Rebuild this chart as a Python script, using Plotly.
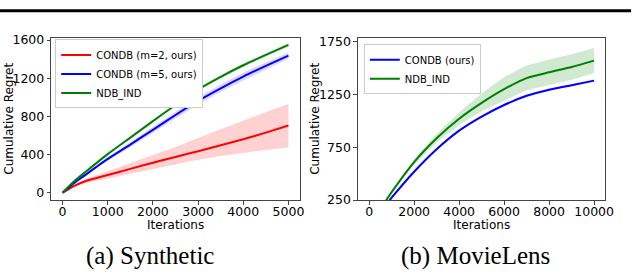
import plotly.graph_objects as go

# ---------------- data: (a) Synthetic ----------------
syn_x = [0, 250, 500, 1000, 1500, 2000, 2500, 3000, 3500, 4000, 4500, 5000]
syn_m2 = [0, 70, 120, 185, 250, 315, 375, 435, 497, 560, 630, 705]
syn_m2_hi = [0, 80, 140, 225, 305, 390, 480, 574, 665, 760, 845, 930]
syn_m2_lo = [0, 60, 100, 150, 200, 245, 295, 345, 385, 420, 448, 473]
syn_m5 = [0, 100, 185, 354, 505, 659, 815, 963, 1095, 1218, 1330, 1438]
syn_m5_hi = [0, 105, 195, 372, 530, 690, 850, 1000, 1135, 1260, 1370, 1472]
syn_m5_lo = [0, 95, 175, 336, 480, 628, 780, 926, 1055, 1176, 1290, 1404]
syn_ind = [0, 117, 215, 405, 578, 750, 920, 1082, 1215, 1336, 1445, 1550]
syn_ind_hi = [0, 120, 220, 413, 588, 762, 934, 1098, 1232, 1354, 1464, 1570]
syn_ind_lo = [0, 114, 210, 397, 568, 738, 906, 1066, 1198, 1318, 1426, 1530]

# ---------------- data: (b) MovieLens ----------------
ml_x = [0, 1000, 2000, 3000, 4000, 5000, 6000, 7000, 8000, 9000, 10000]
ml_condb = [0, 272, 518, 731, 907, 1040, 1150, 1237, 1295, 1338, 1381]
ml_condb_hi = [0, 276, 524, 738, 915, 1049, 1160, 1247, 1305, 1348, 1391]
ml_condb_lo = [0, 268, 512, 724, 899, 1031, 1140, 1227, 1285, 1328, 1371]
ml_ind = [0, 325, 610, 835, 1020, 1170, 1300, 1405, 1460, 1510, 1570]
ml_ind_hi = [0, 335, 640, 875, 1080, 1260, 1415, 1525, 1580, 1630, 1690]
ml_ind_lo = [0, 315, 590, 795, 960, 1090, 1190, 1290, 1340, 1390, 1452]

syn_xticks = [0, 1000, 2000, 3000, 4000, 5000]
syn_yticks = [0, 400, 800, 1200, 1600]
ml_xticks = [0, 2000, 4000, 6000, 8000, 10000]
ml_yticks = [250, 750, 1250, 1750]

RED = "rgb(255,0,0)"
BLUE = "rgb(0,0,255)"
GREEN = "rgb(0,128,0)"

W, H = 640, 274
fig = go.Figure()


def band(x, lo, hi, fill, xa, ya):
    fig.add_trace(go.Scatter(x=x, y=lo, mode="lines", line=dict(width=0, color=fill),
                             showlegend=False, hoverinfo="skip", xaxis=xa, yaxis=ya))
    fig.add_trace(go.Scatter(x=x, y=hi, mode="lines", line=dict(width=0, color=fill),
                             fill="tonexty", fillcolor=fill, showlegend=False,
                             hoverinfo="skip", xaxis=xa, yaxis=ya))


band(syn_x, syn_m2_lo, syn_m2_hi, "rgba(255,0,0,0.18)", "x", "y")
band(syn_x, syn_m5_lo, syn_m5_hi, "rgba(0,0,255,0.15)", "x", "y")
band(syn_x, syn_ind_lo, syn_ind_hi, "rgba(0,128,0,0.15)", "x", "y")
band(ml_x, ml_condb_lo, ml_condb_hi, "rgba(0,0,255,0.12)", "x2", "y2")
band(ml_x, ml_ind_lo, ml_ind_hi, "rgba(0,128,0,0.18)", "x2", "y2")

LINE = dict(width=2, shape="spline", smoothing=0.6)
fig.add_trace(go.Scatter(x=syn_x, y=syn_m2, mode="lines", name="CONDB (m=2, ours)",
                         line=dict(color=RED, **LINE), xaxis="x", yaxis="y", legend="legend"))
fig.add_trace(go.Scatter(x=syn_x, y=syn_m5, mode="lines", name="CONDB (m=5, ours)",
                         line=dict(color=BLUE, **LINE), xaxis="x", yaxis="y", legend="legend"))
fig.add_trace(go.Scatter(x=syn_x, y=syn_ind, mode="lines", name="NDB_IND",
                         line=dict(color=GREEN, **LINE), xaxis="x", yaxis="y", legend="legend"))
fig.add_trace(go.Scatter(x=ml_x, y=ml_condb, mode="lines", name="CONDB (ours)",
                         line=dict(color=BLUE, **LINE), xaxis="x2", yaxis="y2", legend="legend2"))
fig.add_trace(go.Scatter(x=ml_x, y=ml_ind, mode="lines", name="NDB_IND",
                         line=dict(color=GREEN, **LINE), xaxis="x2", yaxis="y2", legend="legend2"))

TICKFONT = dict(family="DejaVu Sans", size=12.5, color="black")
axis_common = dict(showline=True, mirror=True, linecolor="#444", linewidth=1,
                   ticks="outside", ticklen=3.5, tickwidth=1, tickcolor="#444",
                   showgrid=False, zeroline=False, tickfont=TICKFONT, fixedrange=True)


def px_x(p):
    return p / W


def px_y(p):
    return (H - p) / H


legend_common = dict(xanchor="left", yanchor="top", bgcolor="white",
                     bordercolor="#cccccc", borderwidth=1,
                     font=dict(family="DejaVu Sans", size=10, color="black"),
                     tracegroupgap=0, itemwidth=30, traceorder="normal")

fig.update_layout(
    width=W, height=H,
    margin=dict(l=0, r=0, t=0, b=0),
    paper_bgcolor="white", plot_bgcolor="white",
    xaxis=dict(domain=[px_x(52), px_x(304)], range=[-250, 5250], tickvals=syn_xticks,
               ticktext=[str(v) for v in syn_xticks], anchor="y", ticklabelstandoff=-4,
               **axis_common),
    yaxis=dict(domain=[px_y(204), px_y(34)], range=[-77, 1627], tickvals=syn_yticks,
               ticktext=[str(v) for v in syn_yticks], anchor="x", **axis_common),
    xaxis2=dict(domain=[px_x(363), px_x(614)], range=[-500, 10500], tickvals=ml_xticks,
                ticktext=[str(v) for v in ml_xticks], anchor="y2", ticklabelstandoff=-4,
                **axis_common),
    yaxis2=dict(domain=[px_y(204), px_y(35)], range=[250, 1780], tickvals=ml_yticks,
                ticktext=[str(v) for v in ml_yticks], anchor="x2", **axis_common),
    legend=dict(x=px_x(56), y=px_y(36), **legend_common),
    legend2=dict(x=px_x(369), y=px_y(41), **legend_common),
    showlegend=True,
)

ann_font = dict(family="DejaVu Sans", size=12, color="black")
cap_font = dict(family="Liberation Serif", size=25, color="black")
annotations = [
    dict(text="Iterations", x=px_x(178), y=px_y(230), font=ann_font),
    dict(text="Iterations", x=px_x(488.5), y=px_y(230), font=ann_font),
    dict(text="Cumulative Regret", x=px_x(9), y=px_y(119), font=ann_font, textangle=-90),
    dict(text="Cumulative Regret", x=px_x(320), y=px_y(119.5), font=ann_font, textangle=-90),
    dict(text="(a) Synthetic", x=px_x(152), y=px_y(262), font=cap_font),
    dict(text="(b) MovieLens", x=px_x(482), y=px_y(262), font=cap_font),
]
for a in annotations:
    fig.add_annotation(xref="paper", yref="paper", xanchor="center", yanchor="middle",
                       showarrow=False, **a)

fig.add_shape(type="line", xref="paper", yref="paper", x0=0, x1=1,
              y0=px_y(6), y1=px_y(6), line=dict(color="black", width=3))

fig.write_html("out.html", config={"displayModeBar": False},
               post_script="document.body.style.margin='0';document.body.style.padding='0';")
